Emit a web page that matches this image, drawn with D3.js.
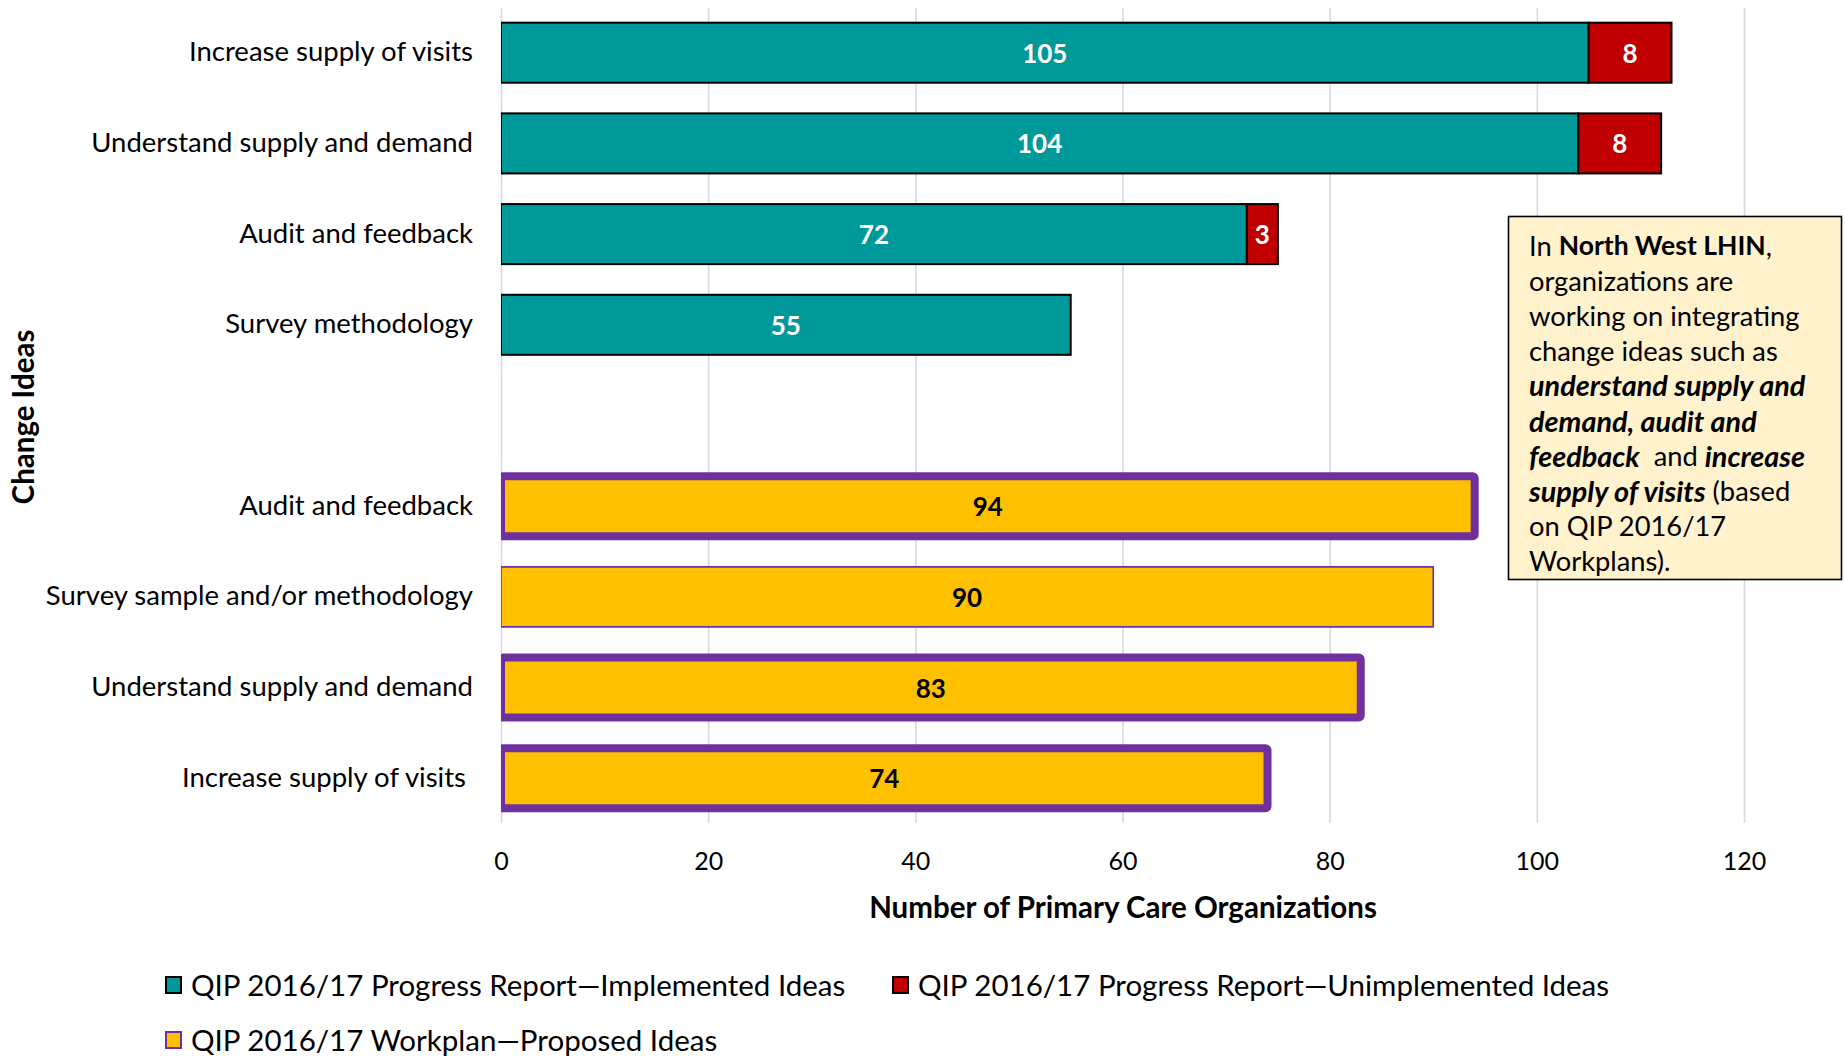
<!DOCTYPE html>
<html>
<head>
<meta charset="utf-8">
<script src="https://cdn.jsdelivr.net/npm/d3@7"></script>
<style>
  html, body { margin: 0; padding: 0; background: #fff; }
  svg { display: block; font-family: Lato, "Open Sans", sans-serif; }
</style>
</head>
<body>
<svg id="chart" width="1845" height="1056"></svg>
<script>
// Change ideas reported in the QIP 2016/17 Progress Reports
const progressIdeas = ["Increase supply of visits", "Understand supply and demand", "Audit and feedback", "Survey methodology"];
const implementedCounts = [105, 104, 72, 55];
const unimplementedCounts = [8, 8, 3, 0];

// Change ideas proposed in the QIP 2016/17 Workplans
const workplanIdeas = ["Audit and feedback", "Survey sample and/or methodology", "Understand supply and demand", "Increase supply of visits "];
const proposedCounts = [94, 90, 83, 74];

// Ideas called out in the North West LHIN note (outlined in the workplan bars)
const featuredIdeas = ["understand supply and demand", "audit and feedback", "increase supply of visits"];

const xTicks = [0, 20, 40, 60, 80, 100, 120];

const seriesNames = [
  "QIP 2016/17 Progress Report\u2014Implemented Ideas",
  "QIP 2016/17 Progress Report\u2014Unimplemented Ideas",
  "QIP 2016/17 Workplan\u2014Proposed Ideas"
];

const TEAL = "#009999", RED = "#C00000", GOLD = "#FFC000", PURPLE = "#7030A0";

const svg = d3.select("#chart");

// Row keys: four progress rows, an empty spacer row, four workplan rows
const rows = [
  ...progressIdeas.map((name, i) => ({ key: "p" + i, name })),
  { key: "gap", name: "" },
  ...workplanIdeas.map((name, i) => ({ key: "w" + i, name }))
];

const x = d3.scaleLinear().domain([0, 120]).range([501, 1744]);
const y = d3.scaleBand()
  .domain(rows.map(r => r.key))
  .range([8, 823])
  .paddingInner(0.338)
  .paddingOuter(0.162);

// Clip marks at the value axis origin
svg.append("defs").append("clipPath").attr("id", "plotClip")
  .append("rect").attr("x", x(0)).attr("y", 0).attr("width", 1845 - x(0)).attr("height", 1056);

// Vertical gridlines and tick labels
const axis = d3.axisBottom(x)
  .tickValues(xTicks)
  .tickSize(-(823 - 8))
  .tickPadding(29)
  .tickFormat(d3.format("d"));

const gAxis = svg.append("g")
  .attr("transform", "translate(0,823)")
  .call(axis);
gAxis.select(".domain").remove();
gAxis.selectAll(".tick line").attr("stroke", "#d9d9d9").attr("stroke-width", 1.6);
gAxis.selectAll(".tick text")
  .attr("fill", "#000")
  .style("font-family", "Lato, sans-serif")
  .style("font-size", "25px");

// Category labels
svg.append("g").selectAll("text")
  .data(rows.filter(r => r.key !== "gap"))
  .join("text")
  .attr("x", 473)
  .attr("y", d => y(d.key) + y.bandwidth() / 2 - 2)
  .attr("text-anchor", "end")
  .attr("dominant-baseline", "central")
  .style("white-space", "pre")
  .style("font-size", "27.5px")
  .attr("fill", "#000")
  .text(d => d.name);

const bars = svg.append("g").attr("clip-path", "url(#plotClip)");

// Progress report: implemented + unimplemented stacked
const progressData = progressIdeas.map((name, i) => ({
  key: "p" + i, impl: implementedCounts[i], unimpl: unimplementedCounts[i]
}));

bars.selectAll("rect.impl")
  .data(progressData)
  .join("rect")
  .attr("class", "impl")
  .attr("x", x(0))
  .attr("y", d => y(d.key))
  .attr("width", d => x(d.impl) - x(0))
  .attr("height", y.bandwidth())
  .attr("fill", TEAL)
  .attr("stroke", "#000")
  .attr("stroke-width", 2);

bars.selectAll("rect.unimpl")
  .data(progressData.filter(d => d.unimpl > 0))
  .join("rect")
  .attr("class", "unimpl")
  .attr("x", d => x(d.impl))
  .attr("y", d => y(d.key))
  .attr("width", d => x(d.impl + d.unimpl) - x(d.impl))
  .attr("height", y.bandwidth())
  .attr("fill", RED)
  .attr("stroke", "#000")
  .attr("stroke-width", 2);

// Workplan: proposed ideas
const workplanData = workplanIdeas.map((name, i) => ({
  key: "w" + i, name, value: proposedCounts[i],
  featured: featuredIdeas.includes(name.trim().toLowerCase())
}));

bars.selectAll("rect.proposed")
  .data(workplanData)
  .join("rect")
  .attr("class", "proposed")
  .attr("x", x(0))
  .attr("y", d => y(d.key))
  .attr("width", d => x(d.value) - x(0))
  .attr("height", y.bandwidth())
  .attr("rx", d => d.featured ? 2 : 0)
  .attr("fill", GOLD)
  .attr("stroke", PURPLE)
  .attr("stroke-width", d => d.featured ? 8 : 1.6)
  .attr("stroke-linejoin", "round");

// Value labels
const labels = svg.append("g").style("font-weight", "bold").style("font-size", "26px");

labels.selectAll("text.impl")
  .data(progressData)
  .join("text")
  .attr("x", d => (x(0) + x(d.impl)) / 2)
  .attr("y", d => y(d.key) + y.bandwidth() / 2)
  .attr("text-anchor", "middle")
  .attr("dominant-baseline", "central")
  .attr("fill", "#fff")
  .text(d => d.impl);

labels.selectAll("text.unimpl")
  .data(progressData.filter(d => d.unimpl > 0))
  .join("text")
  .attr("x", d => (x(d.impl) + x(d.impl + d.unimpl)) / 2)
  .attr("y", d => y(d.key) + y.bandwidth() / 2)
  .attr("text-anchor", "middle")
  .attr("dominant-baseline", "central")
  .attr("fill", "#fff")
  .text(d => d.unimpl);

labels.selectAll("text.proposed")
  .data(workplanData)
  .join("text")
  .attr("x", d => (x(0) + x(d.value)) / 2)
  .attr("y", d => y(d.key) + y.bandwidth() / 2)
  .attr("text-anchor", "middle")
  .attr("dominant-baseline", "central")
  .attr("fill", "#000")
  .text(d => d.value);

// Axis titles
svg.append("text")
  .attr("x", 1123)
  .attr("y", 906)
  .attr("text-anchor", "middle")
  .attr("dominant-baseline", "central")
  .style("font-weight", "bold")
  .style("font-size", "29.5px")
  .text("Number of Primary Care Organizations");

svg.append("text")
  .attr("transform", "translate(22,417) rotate(-90)")
  .attr("text-anchor", "middle")
  .attr("dominant-baseline", "central")
  .style("font-weight", "bold")
  .style("font-size", "29.5px")
  .text("Change Ideas");

// Annotation box
const note = svg.append("g");
note.append("rect")
  .attr("x", 1508.5).attr("y", 216.5)
  .attr("width", 333).attr("height", 363)
  .attr("fill", "#FFF2CC")
  .attr("stroke", "#000")
  .attr("stroke-width", 1.6);

const [fSupply, fAudit, fVisits] = featuredIdeas;
const noteLines = [
  [["In ", ""], ["North West LHIN", "b"], [",", ""]],
  [["organizations are", ""]],
  [["working on integrating", ""]],
  [["change ideas such as", ""]],
  [["understand supply and", "bi"]],
  [["demand, " + fAudit.split(" ")[0] + " and", "bi"]],
  [["feedback", "bi"], ["  and ", ""], ["increase", "bi"]],
  [["supply of visits", "bi"], [" (based", ""]],
  [["on QIP 2016/17", ""]],
  [["Workplans).", ""]]
];

const noteSize = { "": "27.3px", "b": "26.5px", "bi": "28.8px" };

const noteText = note.append("text")
  .style("white-space", "pre")
  .attr("fill", "#000");

noteLines.forEach((parts, i) => {
  const line = noteText.append("tspan")
    .attr("x", 1529)
    .attr("y", 245 + i * 35.1)
    .attr("dominant-baseline", "central");
  parts.forEach(([t, s]) => {
    line.append("tspan")
      .style("font-size", noteSize[s])
      .style("font-weight", s.includes("b") ? "bold" : "normal")
      .style("font-style", s.includes("i") ? "italic" : "normal")
      .text(t);
  });
});

// Legend
const legendItems = [
  { name: seriesNames[0], fill: TEAL, stroke: "#000", x: 165, y: 984 },
  { name: seriesNames[1], fill: RED, stroke: "#000", x: 892, y: 984 },
  { name: seriesNames[2], fill: GOLD, stroke: PURPLE, x: 165, y: 1039 }
];

const legend = svg.append("g").selectAll("g")
  .data(legendItems)
  .join("g")
  .attr("transform", d => `translate(${d.x},${d.y})`);

legend.append("rect")
  .attr("x", 1).attr("y", -7)
  .attr("width", 15).attr("height", 16)
  .attr("fill", d => d.fill)
  .attr("stroke", d => d.stroke)
  .attr("stroke-width", 2);

legend.append("text")
  .attr("x", 26)
  .attr("y", 0)
  .attr("dominant-baseline", "central")
  .style("font-size", "29.5px")
  .text(d => d.name);
</script>
</body>
</html>
